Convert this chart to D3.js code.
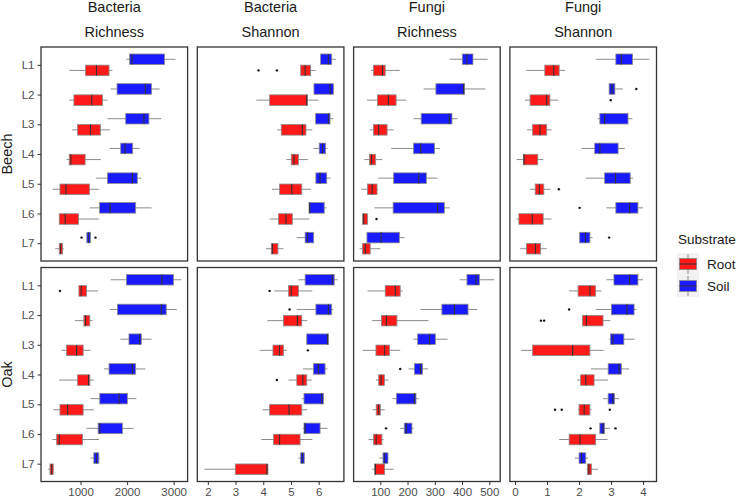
<!doctype html>
<html lang="en">
<head>
    <meta charset="utf-8"/>
    <title>Alpha diversity by layer</title>
    <style>
        body { margin: 0; background: #fff; }
        svg { display: block; font-family: "Liberation Sans", Arial, sans-serif; }
    </style>
</head>
<body>
    <svg id="chart"></svg>
    <script src="https://d3js.org/d3.v7.min.js"></script>
    <script>
        // categories
        const levels = ["L1", "L2", "L3", "L4", "L5", "L6", "L7"];
        const sites = ["Beech", "Oak"];
        const substrates = ["Root", "Soil"];
        const metrics = ["bacRich", "bacShan", "funRich", "funShan"];
        const metricTitles = [["Bacteria", "Richness"], ["Bacteria", "Shannon"], ["Fungi", "Richness"], ["Fungi", "Shannon"]];
        const xDomains = [[150, 3300], [1.62, 6.91], [2, 540], [-0.16, 4.42]];
        const xTicks = [[1000, 2000, 3000], [2, 3, 4, 5, 6], [100, 200, 300, 400, 500], [0, 1, 2, 3, 4]];

        // each row: [lower whisker, q1, median, q3, upper whisker], L1..L7
        const beechBacRichSoil = [[1985,2055,2105,2805,3040],[1649,1784,2391,2526,2698],[1578,1970,2362,2469,2734],[1627,1863,1955,2120,2270],[1334,1578,2113,2220,2306],[1199,1407,1634,2184,2526],[1135,1135,1171,1214,1214]];
        const beechBacRichRoot = [[756,1107,1342,1612,1685],[756,857,1242,1471,1578],[820,936,1214,1428,1627],[700,756,792,1099,1435],[400,557,685,1193,1392],[542,542,670,957,1392],[456,542,572,615,642]];
        const oakBacRichSoil = [[1649,1985,2747,2998,3162],[1627,1792,2734,2841,3068],[1856,2040,2270,2306,2526],[1505,1612,2113,2184,2391],[1214,1413,1826,2006,2199],[1128,1377,1413,1899,2141],[1214,1285,1342,1392,1413]];
        const oakBacRichRoot = [[964,964,1013,1128,1377],[878,1071,1107,1199,1257],[593,700,914,1056,1214],[542,936,1171,1199,1285],[413,557,722,1056,1285],[392,486,542,1043,1398],[306,343,379,413,428]];

        const beechBacShanSoil = [[6.07,6.07,6.35,6.47,6.62],[5.83,5.83,6.41,6.53,6.56],[5.89,5.89,6.35,6.41,6.54],[5.81,6.02,6.14,6.25,6.32],[5.90,5.90,6.05,6.29,6.43],[5.65,5.65,5.68,6.20,6.29],[5.21,5.51,5.60,5.82,5.82]];
        const beechBacShanRoot = [[5.35,5.35,5.51,5.71,5.89],[3.75,4.23,5.57,5.59,5.99],[4.51,4.65,5.41,5.54,5.77],[4.83,5.01,5.11,5.27,5.61],[4.31,4.59,5.03,5.39,5.72],[4.23,4.55,4.82,5.05,5.66],[4.10,4.29,4.33,4.53,4.73]];
        const oakBacShanSoil = [[5.27,5.51,6.49,6.56,6.68],[5.21,5.90,6.35,6.47,6.53],[5.57,5.57,6.32,6.35,6.35],[5.43,5.81,5.99,6.23,6.32],[5.39,5.47,6.11,6.17,6.19],[5.43,5.47,5.51,6.05,6.32],[5.27,5.35,5.41,5.48,5.51]];
        const oakBacShanRoot = [[4.40,4.91,5.01,5.27,5.77],[4.15,4.73,5.23,5.39,5.59],[3.87,4.35,4.59,4.73,4.85],[4.91,5.21,5.43,5.57,5.75],[3.98,4.23,4.93,5.39,5.59],[3.93,4.37,4.59,5.33,5.77],[1.88,2.99,4.13,4.17,4.19]];

        const beechFunRichSoil = [[354,401,418,440,494],[259,304,406,409,486],[222,250,353,363,384],[140,222,248,299,318],[92,149,241,269,310],[79,147,310,335,354],[51,51,103,170,189]];
        const beechFunRichRoot = [[66,75,108,118,171],[51,90,130,158,195],[61,75,94,125,149],[41,60,68,83,108],[30,53,70,88,92],[35,35,39,53,55],[24,35,45,63,100]];
        const oakFunRichSoil = [[391,418,452,464,518],[247,326,372,422,455],[222,237,281,302,347],[204,225,247,255,275],[145,159,225,231,241],[173,188,195,216,222],[96,110,115,128,130]];
        const oakFunRichRoot = [[53,118,155,173,182],[70,104,122,161,277],[35,84,116,134,173],[84,94,103,115,130],[72,85,94,100,116],[57,75,85,106,112],[70,79,82,116,149]];

        const beechFunShanSoil = [[2.52,3.15,3.32,3.67,4.20],[2.94,2.94,3.03,3.12,3.37],[2.59,2.65,2.80,3.53,3.67],[2.08,2.49,2.65,3.22,3.43],[2.21,2.80,3.14,3.60,3.69],[2.86,3.15,3.58,3.84,4.00],[2.02,2.02,2.20,2.34,2.42]];
        const beechFunShanRoot = [[0.36,0.93,1.21,1.38,1.56],[0.31,0.47,0.99,1.09,1.35],[0.38,0.55,0.78,0.99,1.14],[0.05,0.26,0.28,0.71,0.88],[0.47,0.63,0.76,0.90,1.11],[0.05,0.12,0.54,0.88,1.14],[0.16,0.36,0.64,0.80,0.99]];
        const oakFunShanSoil = [[2.86,3.09,3.58,3.84,4.00],[2.52,3.01,3.50,3.72,3.79],[2.94,2.98,3.06,3.40,3.74],[2.37,2.91,3.25,3.32,3.56],[2.75,2.91,3.06,3.11,3.25],[2.65,2.65,2.75,2.80,2.96],[1.87,2.00,2.08,2.21,2.28]];
        const oakFunShanRoot = [[1.69,1.97,2.34,2.52,2.70],[2.11,2.11,2.23,2.75,2.98],[0.19,0.55,1.80,2.34,2.77],[1.94,2.05,2.21,2.47,2.91],[1.97,2.00,2.16,2.34,2.39],[1.38,1.69,2.03,2.52,2.89],[2.23,2.26,2.31,2.39,2.59]];

        // outliers: site, metric, level, substrate, value
        const outliers = [
            ["Beech","bacRich","L7","Soil",1021], ["Beech","bacRich","L7","Soil",1321],
            ["Oak","bacRich","L1","Root",557],
            ["Beech","bacShan","L1","Root",3.83], ["Beech","bacShan","L1","Root",4.49],
            ["Oak","bacShan","L1","Root",4.23], ["Oak","bacShan","L2","Soil",4.95],
            ["Oak","bacShan","L3","Root",5.61], ["Oak","bacShan","L4","Root",4.49],
            ["Beech","funRich","L6","Root",86],
            ["Oak","funRich","L4","Soil",173], ["Oak","funRich","L6","Soil",121],
            ["Beech","funShan","L2","Soil",3.79], ["Beech","funShan","L2","Root",2.99],
            ["Beech","funShan","L5","Root",1.37], ["Beech","funShan","L6","Soil",2.02],
            ["Beech","funShan","L7","Soil",2.94],
            ["Oak","funShan","L2","Soil",1.69], ["Oak","funShan","L2","Root",0.81], ["Oak","funShan","L2","Root",0.91],
            ["Oak","funShan","L5","Root",1.25], ["Oak","funShan","L5","Root",1.46], ["Oak","funShan","L5","Root",2.96],
            ["Oak","funShan","L6","Soil",2.36], ["Oak","funShan","L6","Soil",3.14]
        ];

        const statsTable = {
            Beech: {
                bacRich: {Soil: beechBacRichSoil, Root: beechBacRichRoot},
                bacShan: {Soil: beechBacShanSoil, Root: beechBacShanRoot},
                funRich: {Soil: beechFunRichSoil, Root: beechFunRichRoot},
                funShan: {Soil: beechFunShanSoil, Root: beechFunShanRoot}
            },
            Oak: {
                bacRich: {Soil: oakBacRichSoil, Root: oakBacRichRoot},
                bacShan: {Soil: oakBacShanSoil, Root: oakBacShanRoot},
                funRich: {Soil: oakFunRichSoil, Root: oakFunRichRoot},
                funShan: {Soil: oakFunShanSoil, Root: oakFunShanRoot}
            }
        };

        const width = 742, height = 497;
        const fills = {Root: "#ff1a1a", Soil: "#1a1aff"};
        const panelLeft = 41, panelW = 146.6, panelStep = 156.3;
        const panelTops = [47, 267.5], panelH = 214;

        const svg = d3.select("#chart")
            .attr("width", width)
            .attr("height", height)
            .attr("viewBox", [0, 0, width, height]);

        // facet strip titles
        metricTitles.forEach((t, i) => {
            const cx = panelLeft + i * panelStep + panelW / 2;
            svg.append("text").attr("x", cx).attr("y", 11.5).attr("text-anchor", "middle")
                .attr("font-size", 14.5).attr("fill", "#1a1a1a").text(t[0]);
            svg.append("text").attr("x", cx).attr("y", 36.5).attr("text-anchor", "middle")
                .attr("font-size", 14.5).attr("fill", "#1a1a1a").text(t[1]);
        });

        sites.forEach((site, r) => {
            const top = panelTops[r];
            const y = d3.scalePoint().domain(levels).range([top, top + panelH]).padding(0.6);
            const step = y.step();
            const boxH = step * 0.355;
            const dodge = {Soil: -step * 0.1875, Root: step * 0.1875};

            // row label
            svg.append("text")
                .attr("transform", `translate(11.8,${top + panelH / 2}) rotate(-90)`)
                .attr("text-anchor", "middle").attr("font-size", 14.5).attr("fill", "#1a1a1a")
                .text(site);

            // y axis (only first column)
            const yAxis = svg.append("g").attr("transform", `translate(${panelLeft},0)`)
                .call(d3.axisLeft(y).tickSize(3.5).tickPadding(3));
            yAxis.select(".domain").remove();
            yAxis.selectAll("line").attr("stroke", "#333");
            yAxis.selectAll("text").attr("font-size", 11.5).attr("fill", "#4d4d4d")
                .attr("font-family", "'Liberation Sans', Arial, sans-serif");

            metrics.forEach((m, c) => {
                const left = panelLeft + c * panelStep;
                const x = d3.scaleLinear().domain(xDomains[c]).range([left, left + panelW]);
                const g = svg.append("g");

                g.append("rect").attr("x", left).attr("y", top).attr("width", panelW).attr("height", panelH)
                    .attr("fill", "#fff");

                substrates.forEach(sub => {
                    const rows = statsTable[site][m][sub];
                    rows.forEach((s, i) => {
                        const cy = y(levels[i]) + dodge[sub];
                        // whisker
                        g.append("line").attr("x1", x(s[0])).attr("x2", x(s[4]))
                            .attr("y1", cy).attr("y2", cy)
                            .attr("stroke", "#8c8c8c").attr("stroke-width", 1);
                        g.append("rect").attr("x", x(s[1])).attr("y", cy - boxH / 2)
                            .attr("width", Math.max(1, x(s[3]) - x(s[1]))).attr("height", boxH)
                            .attr("fill", fills[sub]).attr("stroke", "#8c8c8c").attr("stroke-width", 0.8);
                        g.append("line").attr("x1", x(s[2])).attr("x2", x(s[2]))
                            .attr("y1", cy - boxH / 2).attr("y2", cy + boxH / 2)
                            .attr("stroke", "#333").attr("stroke-width", 1.1);
                    });
                });

                g.selectAll("circle.out")
                    .data(outliers.filter(o => o[0] === site && o[1] === m))
                    .join("circle")
                    .attr("cx", d => x(d[4]))
                    .attr("cy", d => y(d[2]) + dodge[d[3]])
                    .attr("r", 1.2)
                    .attr("fill", "#111");

                g.append("rect").attr("x", left).attr("y", top).attr("width", panelW).attr("height", panelH)
                    .attr("fill", "none").attr("stroke", "#333").attr("stroke-width", 1.3);

                // x axis only on bottom row
                if (r === 1) {
                    const xAxis = svg.append("g").attr("transform", `translate(0,${top + panelH})`)
                        .call(d3.axisBottom(x).tickValues(xTicks[c]).tickFormat(d3.format("d"))
                            .tickSize(3.5).tickPadding(2.5));
                    xAxis.select(".domain").remove();
                    xAxis.selectAll("line").attr("stroke", "#333");
                    xAxis.selectAll("text").attr("font-size", 11.5).attr("fill", "#4d4d4d")
                        .attr("font-family", "'Liberation Sans', Arial, sans-serif");
                }
            });
        });

        // legend
        const lg = svg.append("g");
        lg.append("text").attr("x", 678).attr("y", 244).attr("font-size", 13.5).attr("fill", "#1a1a1a").text("Substrate");
        substrates.forEach((sub, i) => {
            const ky = 253 + i * 22;
            lg.append("rect").attr("x", 677).attr("y", ky).attr("width", 22).attr("height", 22).attr("fill", "#f2f2f2");
            lg.append("line").attr("x1", 688).attr("x2", 688).attr("y1", ky + 1).attr("y2", ky + 21)
                .attr("stroke", "#8c8c8c");
            lg.append("rect").attr("x", 679.5).attr("y", ky + 5.5).attr("width", 17).attr("height", 11)
                .attr("fill", fills[sub]).attr("stroke", "#8c8c8c").attr("stroke-width", 0.8);
            lg.append("line").attr("x1", 679.5).attr("x2", 696.5).attr("y1", ky + 11).attr("y2", ky + 11)
                .attr("stroke", "#333").attr("stroke-width", 1.1);
            lg.append("text").attr("x", 707).attr("y", ky + 11).attr("dy", "0.35em")
                .attr("font-size", 13.5).attr("fill", "#1a1a1a").text(sub);
        });
    </script>
</body>
</html>
